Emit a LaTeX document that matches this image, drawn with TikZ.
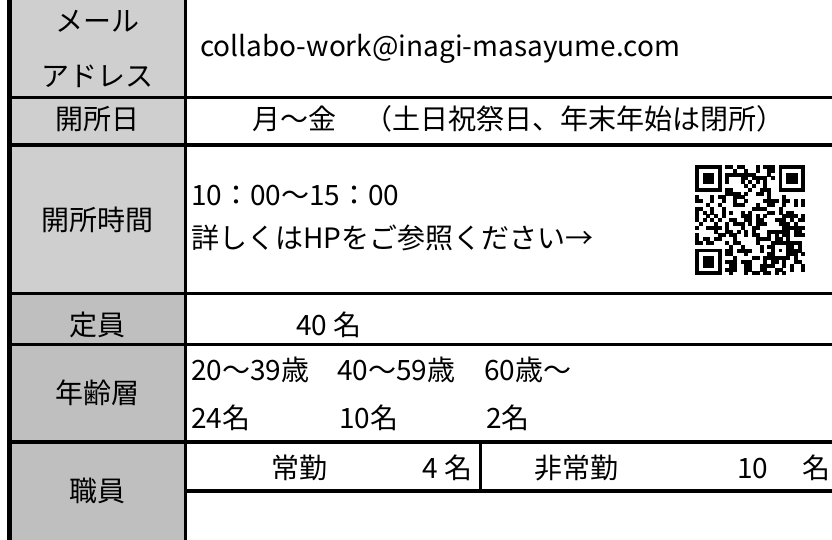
\documentclass[tikz,border=0pt]{standalone}
\usepackage{fontspec}
\setmainfont{Noto Sans CJK JP}
\definecolor{greyA}{RGB}{208,207,208}
\definecolor{greyB}{RGB}{191,191,191}
\begin{document}
\begin{tikzpicture}[x=1pt,y=-1pt,
  txt/.style={inner sep=0pt, font=\fontsize{28}{34}\selectfont},
  rule/.style={line width=3.3pt}]
\useasboundingbox (0,0) rectangle (832,540);
\fill[white] (0,0) rectangle (832,540);
% grey label column
\fill[greyA] (12,0) rectangle (184,293.5);
\fill[greyB] (12,293.5) rectangle (184,540);
% left thick border
\fill[black] (7,0) rectangle (12,540);
% rules
\draw[rule] (12,97.5) -- (832,97.5);
\draw[rule] (12,145) -- (832,145);
\draw[rule] (12,293.5) -- (832,293.5);
\draw[rule] (12,344.5) -- (832,344.5);
\draw[rule] (12,442) -- (832,442);
\draw[rule] (185.5,491) -- (832,491);
\draw[line width=3pt] (185.5,0) -- (185.5,540);
\draw[line width=3pt] (480,442) -- (480,493);
% labels
\node[txt, anchor=base] (l1a) at (97,32) {メール};
\node[txt, anchor=base] (l1b) at (97,87) {アドレス};
\node[txt, anchor=base] (l2) at (97,130) {開所日};
\node[txt, anchor=base] (l3) at (97,230) {開所時間};
\node[txt, anchor=base] (l4) at (97,335) {定員};
\node[txt, anchor=base] (l5) at (97,403) {年齢層};
\node[txt, anchor=base] (l6) at (97,501) {職員};
% contents
\node[txt, anchor=base west] (mail) at (200,57) {collabo-work@inagi-masayume.com};
\node[txt, anchor=base west] (days) at (252,130) {月〜金　（土日祝祭日、年末年始は閉所）};
\node[txt, anchor=base west] (time) at (191,205) {10：00〜15：00};
\node[txt, anchor=base west] (hp) at (191,248) {詳しくはHPをご参照ください→};
\node[txt, anchor=base west] (cap) at (296,335) {40 名};
\node[txt, anchor=base west] (a1) at (191,380) {20〜39歳};
\node[txt, anchor=base west] (a2) at (337,380) {40〜59歳};
\node[txt, anchor=base west] (a3) at (484,380) {60歳〜};
\node[txt, anchor=base west] (n1) at (191,428) {24名};
\node[txt, anchor=base west] (n2) at (339,428) {10名};
\node[txt, anchor=base west] (n3) at (486,428) {2名};
\node[txt, anchor=base west] (jok) at (271,478) {常勤};
\node[txt, anchor=base east] (jon) at (473,478) {4 名};
\node[txt, anchor=base west] (hij) at (534,478) {非常勤};
\node[txt, anchor=base west] (hn) at (737,478) {10};
\node[txt, anchor=base west] (hm) at (802,478) {名};
% QR code
\def\qrm{3.8}
\begin{scope}[shift={(695,165)}]
  \pgfmathsetseed{1234}
  \foreach \i in {0,...,28}{
    \foreach \j in {0,...,28}{
      \pgfmathsetmacro\qrr{rnd}
      \pgfmathtruncatemacro\qrs{or(and(\i<8,\j<8),or(and(\i>20,\j<8),and(\i<8,\j>20)))}
      \pgfmathtruncatemacro\qrf{and(\qrs==0,\qrr<0.5)}
      \ifnum\qrf=1
        \fill[black] (\i*\qrm,\j*\qrm) rectangle ++(\qrm+0.15,\qrm+0.15);
      \fi
    }
  }
  \foreach \fx/\fy in {0/0,22/0,0/22}{
    \fill[black] (\fx*\qrm,\fy*\qrm) rectangle ++(7*\qrm,7*\qrm);
    \fill[white] (\fx*\qrm+\qrm,\fy*\qrm+\qrm) rectangle ++(5*\qrm,5*\qrm);
    \fill[black] (\fx*\qrm+2*\qrm,\fy*\qrm+2*\qrm) rectangle ++(3*\qrm,3*\qrm);
  }
  \fill[black] (20*\qrm,20*\qrm) rectangle ++(5*\qrm,5*\qrm);
  \fill[white] (21*\qrm,21*\qrm) rectangle ++(3*\qrm,3*\qrm);
  \fill[black] (22*\qrm,22*\qrm) rectangle ++(\qrm,\qrm);
\end{scope}
\end{tikzpicture}
\end{document}
